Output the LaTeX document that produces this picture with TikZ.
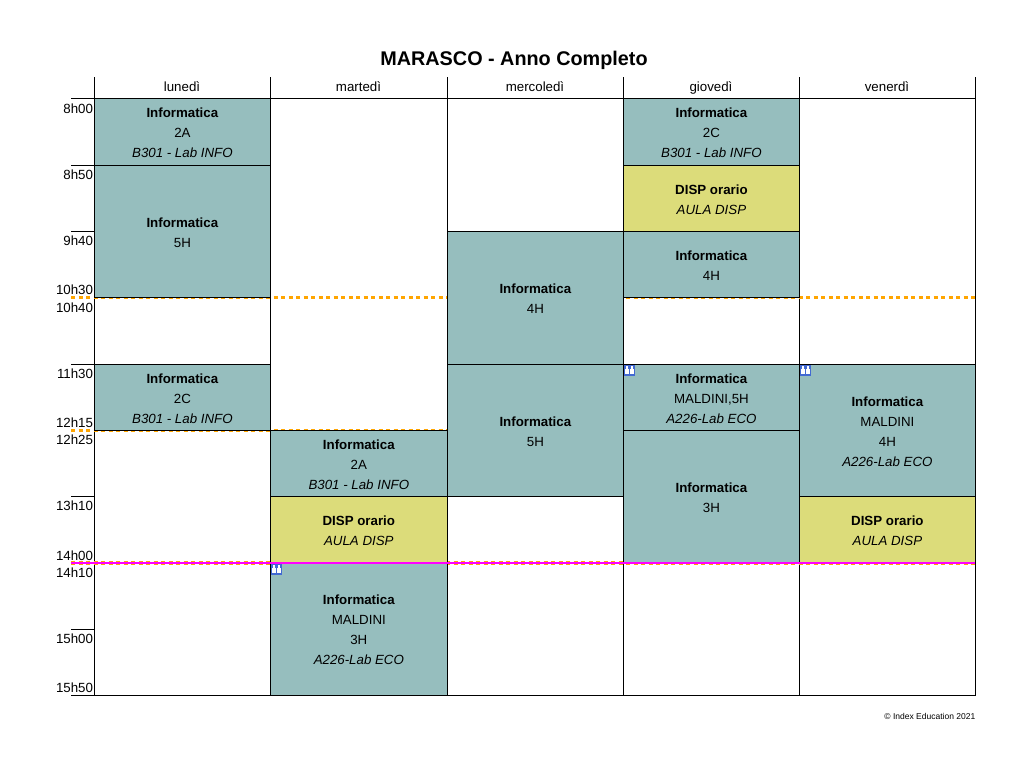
\documentclass[tikz,border=0pt]{standalone}
\usepackage{fontspec}
\setmainfont{Liberation Sans}
\definecolor{teal}{RGB}{150,190,190}
\definecolor{yell}{RGB}{220,220,122}
\definecolor{dashor}{RGB}{255,165,0}
\definecolor{magline}{RGB}{255,0,255}
\definecolor{iconblue}{RGB}{66,105,210}
\tikzset{
  gridline/.style={draw=black,line width=1pt},
  breakline/.style={draw=dashor,line width=3.4pt,dash pattern=on 4pt off 3.5pt},
  nowline/.style={draw=magline,line width=2pt},
  block/.style={draw=black,line width=1pt,inner sep=0pt,outer sep=0pt},
  blocktext/.style={inner sep=0pt,align=center,font=\fontsize{13.3}{20}\selectfont},
  course/.style={block,fill=teal},
  free/.style={block,fill=yell},
  hour/.style={anchor=east,inner sep=0pt,font=\fontsize{13.3}{16}\selectfont},
  dayname/.style={anchor=base,inner sep=0pt,font=\fontsize{13.3}{16}\selectfont},
  pics/people/.style={code={
    \fill[iconblue] (0,0) rectangle (11.6,10.6);
    \fill[white] (1.4,4) rectangle (5.3,9.2);
    \fill[white] (6.3,4) rectangle (10.2,9.2);
    \fill[white] (2,1.4) rectangle (4.7,3.8);
    \fill[white] (6.9,1.4) rectangle (9.6,3.8);
  }}
}
\newcommand{\blk}[7]{%
  \pgfmathsetmacro{\bw}{#4-#2}\pgfmathsetmacro{\bh}{#5-#3}%
  \pgfmathsetmacro{\bx}{(#2+#4)/2}\pgfmathsetmacro{\by}{(#3+#5)/2}%
  \node[#6,minimum width=\bw pt,minimum height=\bh pt] (#1) at (\bx,\by) {};
  \node[blocktext] (#1t) at ([yshift=-0.9pt]#1.center) {#7};}
\newcommand{\bt}[1]{\textbf{#1}}
\newcommand{\ro}[1]{\textit{#1}}
\begin{document}
\begin{tikzpicture}[x=1pt,y=-1pt]
\useasboundingbox[fill=white] (0,0) rectangle (1025,769);
% title
\node[inner sep=0pt,font=\fontsize{19.8}{24}\bfseries\selectfont] (title) at (514,60.8) {MARASCO - Anno Completo};
% day headers
\node[dayname] (d1) at (182,91.8) {lunedì};
\node[dayname] (d2) at (358.5,91.8) {martedì};
\node[dayname] (d3) at (535,91.8) {mercoledì};
\node[dayname] (d4) at (711,91.8) {giovedì};
\node[dayname] (d5) at (887,91.8) {venerdì};
% grid
\foreach \xx in {94.4,270.4,447.3,623.5,799.4,975.4}
  \draw[gridline] (\xx,77) -- (\xx,695.8);
\foreach \yy in {98.3,165.3,231.4,364.4,496.4,629.3,695.3}
  \draw[gridline] (71,\yy) -- (94.4,\yy);
\draw[gridline] (94.4,98.3) -- (975.9,98.3);
\draw[gridline] (71,695.3) -- (975.9,695.3);
% breaks
\draw[breakline] (71,297.4) -- (975,297.4);
\draw[breakline] (71,430.4) -- (975,430.4);
\draw[breakline,line width=4pt] (71,563) -- (975,563);
% hours
\foreach \lab/\yy in {8h00/108.3,8h50/174.3,9h40/240.3,10h30/289.3,10h40/307.3,11h30/373.3,12h15/422.3,12h25/439.3,13h10/505.3,14h00/555.3,14h10/572.3,15h00/638.3,15h50/687.3}
  \node[hour] at (93.2,\yy) {\lab};
% lunedi
\blk{a1}{94.4}{98.3}{270.4}{165.3}{course}{\bt{Informatica}\\2A\\\ro{B301 - Lab INFO}}
\blk{a2}{94.4}{165.3}{270.4}{297.4}{course}{\bt{Informatica}\\5H}
\blk{a3}{94.4}{364.4}{270.4}{430.4}{course}{\bt{Informatica}\\2C\\\ro{B301 - Lab INFO}}
% martedi
\blk{b1}{270.4}{430.4}{447.3}{496.4}{course}{\bt{Informatica}\\2A\\\ro{B301 - Lab INFO}}
\blk{b2}{270.4}{496.4}{447.3}{563}{free}{\bt{DISP orario}\\\ro{AULA DISP}}
\blk{b3}{270.4}{563}{447.3}{695.3}{course}{\bt{Informatica}\\MALDINI\\3H\\\ro{A226-Lab ECO}}
% mercoledi
\blk{c1}{447.3}{231.4}{623.5}{364.4}{course}{\bt{Informatica}\\4H}
\blk{c2}{447.3}{364.4}{623.5}{496.4}{course}{\bt{Informatica}\\5H}
% giovedi
\blk{e1}{623.5}{98.3}{799.4}{165.3}{course}{\bt{Informatica}\\2C\\\ro{B301 - Lab INFO}}
\blk{e2}{623.5}{165.3}{799.4}{231.4}{free}{\bt{DISP orario}\\\ro{AULA DISP}}
\blk{e3}{623.5}{231.4}{799.4}{297.4}{course}{\bt{Informatica}\\4H}
\blk{e4}{623.5}{364.4}{799.4}{430.4}{course}{\bt{Informatica}\\MALDINI,5H\\\ro{A226-Lab ECO}}
\blk{e5}{623.5}{430.4}{799.4}{563}{course}{\bt{Informatica}\\3H}
% venerdi
\blk{f1}{799.4}{364.4}{975.4}{496.4}{course}{\bt{Informatica}\\MALDINI\\4H\\\ro{A226-Lab ECO}}
\blk{f2}{799.4}{496.4}{975.4}{563}{free}{\bt{DISP orario}\\\ro{AULA DISP}}
% now line
\draw[nowline] (71,563) -- (975.4,563);
% icons
\pic at (623.6,365) {people};
\pic at (799.6,365) {people};
\pic at (270.6,564) {people};
% credit
\node[anchor=east,inner sep=0pt,font=\fontsize{8.5}{10}\selectfont] (credit) at (975.5,716) {© Index Education 2021};
\end{tikzpicture}
\end{document}
